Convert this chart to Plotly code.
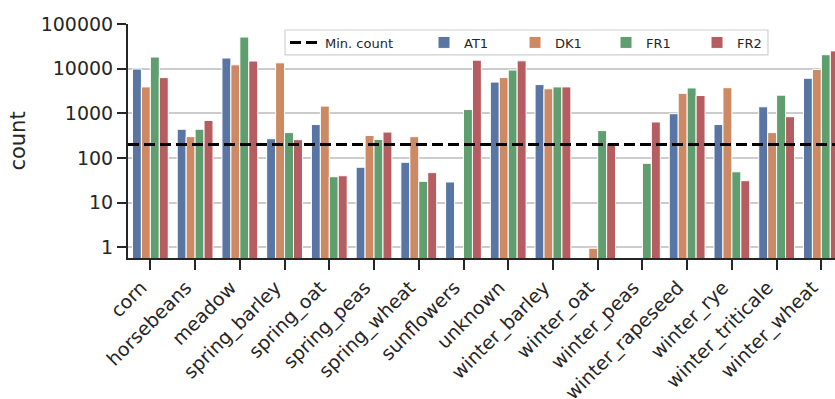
import numpy as np
import plotly.graph_objects as go

# Crop classes on the x axis
categories = [
    "corn", "horsebeans", "meadow", "spring_barley", "spring_oat",
    "spring_peas", "spring_wheat", "sunflowers", "unknown", "winter_barley",
    "winter_oat", "winter_peas", "winter_rapeseed", "winter_rye",
    "winter_triticale", "winter_wheat",
]

# Sample counts per region (None = class absent in that region)
at1 = [9800, 440, 17300, 270, 560, 62, 80, 29, 5000, 4400,
       None, None, 980, 560, 1400, 6100]
dk1 = [3900, 300, 12200, 13500, 1450, 320, 300, None, 6300, 3550,
       0.95, None, 2800, 3750, 370, 9600]
fr1 = [18200, 440, 51000, 370, 38, 260, 30, 1220, 9300, 3900,
       410, 76, 3700, 49, 2550, 20500]
fr2 = [6300, 690, 14800, 257, 40, 380, 47, 15500, 15000, 3900,
       215, 640, 2500, 31, 840, 25000]

series = {"AT1": at1, "DK1": dk1, "FR1": fr1, "FR2": fr2}
# muted (75% saturation) palette
colors = {"AT1": "#5975A4", "DK1": "#CC8963", "FR1": "#5F9E6E", "FR2": "#B55D60"}

min_count = 200

ytick_vals = [1, 10, 100, 1000, 10000, 100000]
ytick_text = ["1", "10", "100", "1000", "10000", "100000"]

x = np.arange(len(categories))
ink = "#262626"
font_family = "DejaVu Sans"

fig = go.Figure()

for name, vals in series.items():
    fig.add_trace(go.Bar(
        x=x,
        y=vals,
        name=name,
        legend="legend2",
        marker=dict(color=colors[name], line=dict(color="white", width=1)),
    ))

# Threshold line across the whole axis, drawn above the bars
fig.add_trace(go.Scatter(
    x=[-0.5, len(categories) - 0.5],
    y=[min_count, min_count],
    mode="lines",
    name="Min. count",
    legend="legend",
    line=dict(color="black", width=3, dash="11px,5px"),
))

legend_font = dict(size=13, color=ink, family=font_family)
legend_y = 0.921

# shared frame behind the two legend rows
fig.add_shape(
    type="rect", xref="paper", yref="paper",
    x0=0.2221, x1=0.9052, y0=0.8677, y1=0.9744,
    line=dict(color="#d0d0d0", width=1.2),
    fillcolor="white",
    layer="above",
)

fig.update_layout(
    width=835,
    height=399,
    margin=dict(l=128, r=0, t=24, b=141),
    paper_bgcolor="white",
    plot_bgcolor="white",
    barmode="group",
    bargap=0.2,
    bargroupgap=0,
    font=dict(family=font_family, color=ink),
    showlegend=True,
    legend=dict(
        orientation="h",
        x=0.2221, y=legend_y,
        xanchor="left", yanchor="middle",
        bgcolor="rgba(0,0,0,0)",
        borderwidth=0,
        font=legend_font,
    ),
    legend2=dict(
        orientation="h",
        x=0.4187, y=legend_y,
        xanchor="left", yanchor="middle",
        bgcolor="rgba(0,0,0,0)",
        borderwidth=0,
        font=legend_font,
        entrywidth=46,
        traceorder="normal",
    ),
)

fig.update_xaxes(
    range=[-0.5, 15.305],
    tickmode="array",
    tickvals=x,
    ticktext=categories,
    tickangle=-45,
    tickfont=dict(size=19, color=ink),
    ticklabelshift=-9,
    ticklabelstandoff=-1,
    ticks="outside",
    ticklen=10,
    tickwidth=2,
    tickcolor=ink,
    showline=True,
    linecolor=ink,
    linewidth=2,
    showgrid=False,
    zeroline=False,
    automargin=False,
)

fig.update_yaxes(
    type="log",
    range=[-0.24, 5.0],
    tickmode="array",
    tickvals=ytick_vals,
    ticktext=ytick_text,
    tickfont=dict(size=19, color=ink),
    ticks="outside",
    ticklen=9,
    tickwidth=2,
    tickcolor=ink,
    showline=True,
    linecolor=ink,
    linewidth=2,
    showgrid=True,
    gridcolor="#cccccc",
    gridwidth=1.5,
    zeroline=False,
    title=dict(text="count", font=dict(size=21, color=ink), standoff=9),
    automargin=False,
)

fig.write_html("out.html")
